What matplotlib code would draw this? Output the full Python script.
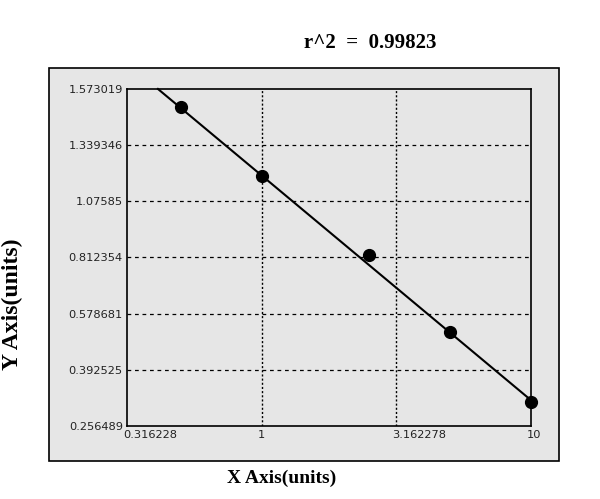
import matplotlib.pyplot as plt
import matplotlib.patches as mpatches
import matplotlib.transforms as mtransforms
import numpy as np

# standard points
conc = [0.5, 1.0, 2.5, 5.0, 10.0]
od = [1.497, 1.195, 0.824, 0.517, 0.314]

# fitted curve end points
fit_x = [0.412, 10.0]
fit_y = [1.573019, 0.319]

x_ticks = [0.316228, 1, 3.162278, 10]
x_labels = ["0.316228", "1", "3.162278", "10"]
y_ticks = [0.256489, 0.392525, 0.578681, 0.812354, 1.07585, 1.339346, 1.573019]
y_labels = ["0.256489", "0.392525", "0.578681", "0.812354", "1.07585", "1.339346", "1.573019"]

r2_text = "r^2  =  0.99823"

idx = np.arange(len(y_ticks), dtype=float)


# y axis ticks are evenly spaced, so map values piecewise onto them
def fwd(y):
    return np.interp(y, y_ticks, idx)


def inv(v):
    return np.interp(v, idx, y_ticks)


def main():
    fig = plt.figure(figsize=(6, 4.99), dpi=100)
    fig.patch.set_facecolor("white")

    panel = mpatches.Rectangle((0.0817, 0.0762), 0.85, 0.7876, transform=fig.transFigure,
                               facecolor="#e6e6e6", edgecolor="black", linewidth=1.2, zorder=-1)
    fig.patches.append(panel)

    ax = fig.add_axes([0.2117, 0.1463, 0.6733, 0.6754])
    ax.set_zorder(1)
    ax.set_facecolor("#e6e6e6")
    ax.set_xscale("log")
    ax.set_yscale("function", functions=(fwd, inv))
    ax.set_xlim(0.316228, 10)
    ax.set_ylim(0.256489, 1.573019)

    ax.set_xticks(x_ticks)
    ax.set_xticklabels(x_labels)
    ax.xaxis.set_minor_locator(plt.NullLocator())
    ax.set_yticks(y_ticks)
    ax.set_yticklabels(y_labels)
    ax.yaxis.set_minor_locator(plt.NullLocator())
    ax.tick_params(length=0, labelsize=8.2, labelcolor="#222222", pad=3)
    off = mtransforms.ScaledTranslation(-0.04, 0, fig.dpi_scale_trans)
    for lab in ax.get_xticklabels():
        lab.set_horizontalalignment("left")
        lab.set_transform(lab.get_transform() + off)

    for t in y_ticks[1:-1]:
        ax.axhline(t, color="black", lw=0.9, ls=(0, (3, 3)), zorder=1)
    for t in x_ticks[1:-1]:
        ax.axvline(t, color="black", lw=1.0, ls=(0, (1.5, 1.5)), zorder=1)

    for s in ax.spines.values():
        s.set_linewidth(1.2)

    ax.plot(fit_x, fit_y, color="black", lw=1.5, zorder=3, clip_on=False)
    ax.plot(conc, od, "o", color="black", ms=8.5, zorder=4, clip_on=False)

    fig.text(0.617, 0.913, r2_text, ha="center", va="center", fontsize=15,
             fontweight="bold", family="Liberation Serif")
    fig.text(0.47, 0.042, "X Axis(units)", ha="center", va="center", fontsize=14,
             fontweight="bold", family="Liberation Serif")
    fig.text(0.02, 0.39, "Y Axis(units)", ha="center", va="center", fontsize=17,
             fontweight="bold", family="Liberation Serif", rotation=90)

    plt.savefig("out.png", dpi=100)


if __name__ == "__main__":
    main()
